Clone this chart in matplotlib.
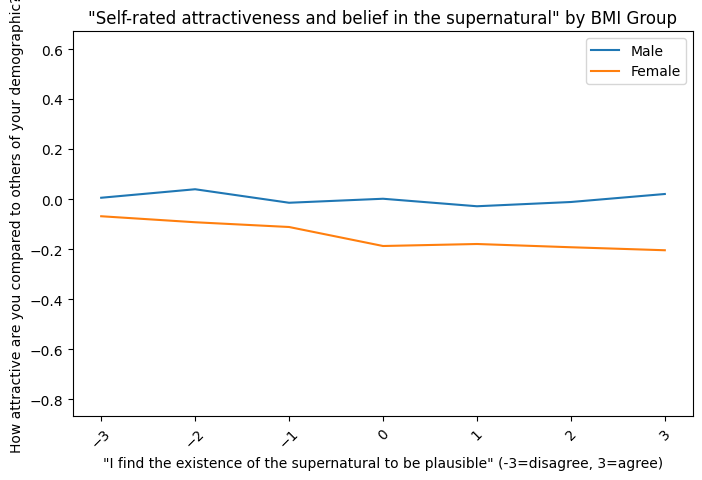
import matplotlib
matplotlib.use("Agg")
import matplotlib.pyplot as plt

x_values = [-3, -2, -1, 0, 1, 2, 3]
male = [0.005, 0.039, -0.015, 0.001, -0.029, -0.012, 0.020]
female = [-0.069, -0.093, -0.112, -0.188, -0.180, -0.193, -0.205]

fig = plt.figure(figsize=(7.02, 4.81), dpi=100)
ax = fig.add_axes([73/702, 1-417/481, (693-73)/702, (417-32)/481])
ax.plot(x_values, male, label="Male")
ax.plot(x_values, female, label="Female")
ax.set_ylim(-0.868, 0.672)
ax.set_xlim(-3.3, 3.3)
ax.set_xticks(x_values)
ax.tick_params(axis="x", labelrotation=45)
ax.set_title('"Self-rated attractiveness and belief in the supernatural" by BMI Group')
ax.set_xlabel('"I find the existence of the supernatural to be plausible" (-3=disagree, 3=agree)')
ax.set_ylabel("How attractive are you compared to others of your demographic?")
ax.legend(loc="upper right")
fig.savefig("out.png", dpi=100)
